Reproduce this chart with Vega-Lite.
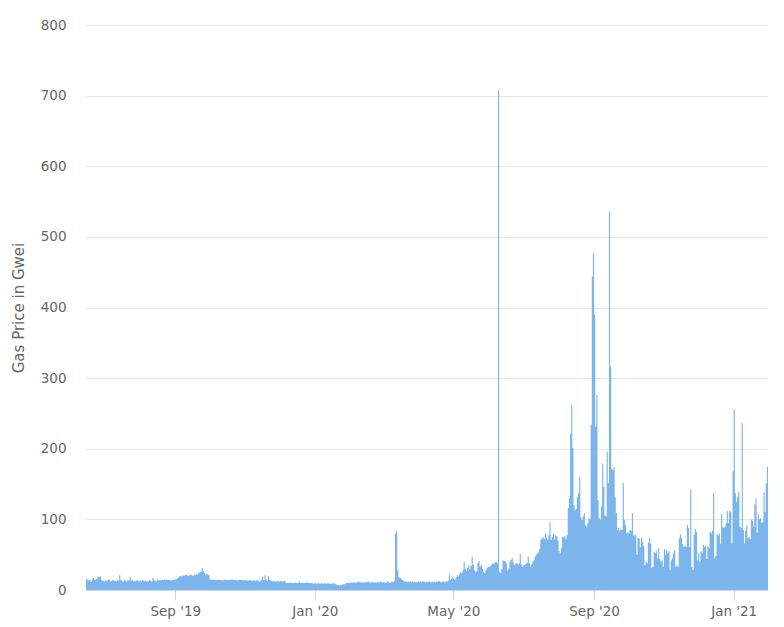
{
  "$schema": "https://vega.github.io/schema/vega-lite/v6.json",
  "width": 682,
  "height": 565,
  "autosize": "none",
  "padding": {"left": 86, "top": 25, "right": 16, "bottom": 37},
  "config": {"view": {"stroke": null}, "font": "DejaVu Sans"},
  "data": {"values": [
{"date":"2019-06-15","gwei":16},{"date":"2019-06-16","gwei":14},{"date":"2019-06-17","gwei":13},{"date":"2019-06-18","gwei":15},{"date":"2019-06-19","gwei":12},{"date":"2019-06-20","gwei":14},{"date":"2019-06-21","gwei":17},{"date":"2019-06-22","gwei":15},{"date":"2019-06-23","gwei":14},{"date":"2019-06-24","gwei":16},{"date":"2019-06-25","gwei":19},{"date":"2019-06-26","gwei":18},{"date":"2019-06-27","gwei":19},{"date":"2019-06-28","gwei":14},{"date":"2019-06-29","gwei":13},{"date":"2019-06-30","gwei":13},
{"date":"2019-07-01","gwei":12},{"date":"2019-07-02","gwei":14},{"date":"2019-07-03","gwei":13},{"date":"2019-07-04","gwei":15},{"date":"2019-07-05","gwei":14},{"date":"2019-07-06","gwei":12},{"date":"2019-07-07","gwei":13},{"date":"2019-07-08","gwei":14},{"date":"2019-07-09","gwei":13},{"date":"2019-07-10","gwei":13},{"date":"2019-07-11","gwei":12},{"date":"2019-07-12","gwei":14},{"date":"2019-07-13","gwei":13},{"date":"2019-07-14","gwei":21},{"date":"2019-07-15","gwei":14},{"date":"2019-07-16","gwei":13},{"date":"2019-07-17","gwei":12},{"date":"2019-07-18","gwei":15},{"date":"2019-07-19","gwei":13},{"date":"2019-07-20","gwei":12},{"date":"2019-07-21","gwei":14},{"date":"2019-07-22","gwei":13},{"date":"2019-07-23","gwei":18},{"date":"2019-07-24","gwei":13},{"date":"2019-07-25","gwei":14},{"date":"2019-07-26","gwei":12},{"date":"2019-07-27","gwei":13},{"date":"2019-07-28","gwei":12},{"date":"2019-07-29","gwei":14},{"date":"2019-07-30","gwei":13},{"date":"2019-07-31","gwei":12},
{"date":"2019-08-01","gwei":13},{"date":"2019-08-02","gwei":12},{"date":"2019-08-03","gwei":14},{"date":"2019-08-04","gwei":13},{"date":"2019-08-05","gwei":13},{"date":"2019-08-06","gwei":12},{"date":"2019-08-07","gwei":13},{"date":"2019-08-08","gwei":12},{"date":"2019-08-09","gwei":14},{"date":"2019-08-10","gwei":13},{"date":"2019-08-11","gwei":12},{"date":"2019-08-12","gwei":17},{"date":"2019-08-13","gwei":14},{"date":"2019-08-14","gwei":12},{"date":"2019-08-15","gwei":13},{"date":"2019-08-16","gwei":15},{"date":"2019-08-17","gwei":13},{"date":"2019-08-18","gwei":14},{"date":"2019-08-19","gwei":13},{"date":"2019-08-20","gwei":14},{"date":"2019-08-21","gwei":14},{"date":"2019-08-22","gwei":15},{"date":"2019-08-23","gwei":14},{"date":"2019-08-24","gwei":15},{"date":"2019-08-25","gwei":14},{"date":"2019-08-26","gwei":14},{"date":"2019-08-27","gwei":14},{"date":"2019-08-28","gwei":13},{"date":"2019-08-29","gwei":14},{"date":"2019-08-30","gwei":14},{"date":"2019-08-31","gwei":15},
{"date":"2019-09-01","gwei":15},{"date":"2019-09-02","gwei":16},{"date":"2019-09-03","gwei":17},{"date":"2019-09-04","gwei":19},{"date":"2019-09-05","gwei":20},{"date":"2019-09-06","gwei":19},{"date":"2019-09-07","gwei":21},{"date":"2019-09-08","gwei":20},{"date":"2019-09-09","gwei":21},{"date":"2019-09-10","gwei":22},{"date":"2019-09-11","gwei":21},{"date":"2019-09-12","gwei":20},{"date":"2019-09-13","gwei":21},{"date":"2019-09-14","gwei":22},{"date":"2019-09-15","gwei":21},{"date":"2019-09-16","gwei":20},{"date":"2019-09-17","gwei":22},{"date":"2019-09-18","gwei":21},{"date":"2019-09-19","gwei":23},{"date":"2019-09-20","gwei":22},{"date":"2019-09-21","gwei":24},{"date":"2019-09-22","gwei":25},{"date":"2019-09-23","gwei":26},{"date":"2019-09-24","gwei":31},{"date":"2019-09-25","gwei":27},{"date":"2019-09-26","gwei":24},{"date":"2019-09-27","gwei":22},{"date":"2019-09-28","gwei":23},{"date":"2019-09-29","gwei":22},{"date":"2019-09-30","gwei":21},
{"date":"2019-10-01","gwei":15},{"date":"2019-10-02","gwei":14},{"date":"2019-10-03","gwei":14},{"date":"2019-10-04","gwei":15},{"date":"2019-10-05","gwei":14},{"date":"2019-10-06","gwei":14},{"date":"2019-10-07","gwei":14},{"date":"2019-10-08","gwei":15},{"date":"2019-10-09","gwei":14},{"date":"2019-10-10","gwei":14},{"date":"2019-10-11","gwei":14},{"date":"2019-10-12","gwei":13},{"date":"2019-10-13","gwei":14},{"date":"2019-10-14","gwei":15},{"date":"2019-10-15","gwei":14},{"date":"2019-10-16","gwei":14},{"date":"2019-10-17","gwei":14},{"date":"2019-10-18","gwei":14},{"date":"2019-10-19","gwei":15},{"date":"2019-10-20","gwei":14},{"date":"2019-10-21","gwei":15},{"date":"2019-10-22","gwei":14},{"date":"2019-10-23","gwei":14},{"date":"2019-10-24","gwei":14},{"date":"2019-10-25","gwei":13},{"date":"2019-10-26","gwei":14},{"date":"2019-10-27","gwei":14},{"date":"2019-10-28","gwei":14},{"date":"2019-10-29","gwei":14},{"date":"2019-10-30","gwei":13},{"date":"2019-10-31","gwei":14},
{"date":"2019-11-01","gwei":14},{"date":"2019-11-02","gwei":13},{"date":"2019-11-03","gwei":14},{"date":"2019-11-04","gwei":13},{"date":"2019-11-05","gwei":14},{"date":"2019-11-06","gwei":13},{"date":"2019-11-07","gwei":13},{"date":"2019-11-08","gwei":14},{"date":"2019-11-09","gwei":13},{"date":"2019-11-10","gwei":13},{"date":"2019-11-11","gwei":14},{"date":"2019-11-12","gwei":13},{"date":"2019-11-13","gwei":12},{"date":"2019-11-14","gwei":13},{"date":"2019-11-15","gwei":14},{"date":"2019-11-16","gwei":19},{"date":"2019-11-17","gwei":14},{"date":"2019-11-18","gwei":21},{"date":"2019-11-19","gwei":15},{"date":"2019-11-20","gwei":13},{"date":"2019-11-21","gwei":20},{"date":"2019-11-22","gwei":14},{"date":"2019-11-23","gwei":13},{"date":"2019-11-24","gwei":13},{"date":"2019-11-25","gwei":12},{"date":"2019-11-26","gwei":13},{"date":"2019-11-27","gwei":12},{"date":"2019-11-28","gwei":12},{"date":"2019-11-29","gwei":13},{"date":"2019-11-30","gwei":12},
{"date":"2019-12-01","gwei":12},{"date":"2019-12-02","gwei":13},{"date":"2019-12-03","gwei":12},{"date":"2019-12-04","gwei":12},{"date":"2019-12-05","gwei":13},{"date":"2019-12-06","gwei":11},{"date":"2019-12-07","gwei":10},{"date":"2019-12-08","gwei":10},{"date":"2019-12-09","gwei":10},{"date":"2019-12-10","gwei":11},{"date":"2019-12-11","gwei":10},{"date":"2019-12-12","gwei":10},{"date":"2019-12-13","gwei":10},{"date":"2019-12-14","gwei":11},{"date":"2019-12-15","gwei":10},{"date":"2019-12-16","gwei":10},{"date":"2019-12-17","gwei":10},{"date":"2019-12-18","gwei":12},{"date":"2019-12-19","gwei":10},{"date":"2019-12-20","gwei":10},{"date":"2019-12-21","gwei":10},{"date":"2019-12-22","gwei":10},{"date":"2019-12-23","gwei":10},{"date":"2019-12-24","gwei":10},{"date":"2019-12-25","gwei":11},{"date":"2019-12-26","gwei":10},{"date":"2019-12-27","gwei":10},{"date":"2019-12-28","gwei":10},{"date":"2019-12-29","gwei":10},{"date":"2019-12-30","gwei":9},{"date":"2019-12-31","gwei":9},
{"date":"2020-01-01","gwei":10},{"date":"2020-01-02","gwei":9},{"date":"2020-01-03","gwei":9},{"date":"2020-01-04","gwei":10},{"date":"2020-01-05","gwei":9},{"date":"2020-01-06","gwei":10},{"date":"2020-01-07","gwei":9},{"date":"2020-01-08","gwei":9},{"date":"2020-01-09","gwei":10},{"date":"2020-01-10","gwei":9},{"date":"2020-01-11","gwei":9},{"date":"2020-01-12","gwei":10},{"date":"2020-01-13","gwei":9},{"date":"2020-01-14","gwei":9},{"date":"2020-01-15","gwei":9},{"date":"2020-01-16","gwei":9},{"date":"2020-01-17","gwei":10},{"date":"2020-01-18","gwei":9},{"date":"2020-01-19","gwei":8},{"date":"2020-01-20","gwei":7},{"date":"2020-01-21","gwei":7},{"date":"2020-01-22","gwei":6},{"date":"2020-01-23","gwei":7},{"date":"2020-01-24","gwei":7},{"date":"2020-01-25","gwei":8},{"date":"2020-01-26","gwei":8},{"date":"2020-01-27","gwei":9},{"date":"2020-01-28","gwei":10},{"date":"2020-01-29","gwei":10},{"date":"2020-01-30","gwei":10},{"date":"2020-01-31","gwei":10},
{"date":"2020-02-01","gwei":11},{"date":"2020-02-02","gwei":10},{"date":"2020-02-03","gwei":11},{"date":"2020-02-04","gwei":11},{"date":"2020-02-05","gwei":10},{"date":"2020-02-06","gwei":11},{"date":"2020-02-07","gwei":11},{"date":"2020-02-08","gwei":12},{"date":"2020-02-09","gwei":11},{"date":"2020-02-10","gwei":11},{"date":"2020-02-11","gwei":10},{"date":"2020-02-12","gwei":11},{"date":"2020-02-13","gwei":11},{"date":"2020-02-14","gwei":11},{"date":"2020-02-15","gwei":11},{"date":"2020-02-16","gwei":12},{"date":"2020-02-17","gwei":11},{"date":"2020-02-18","gwei":10},{"date":"2020-02-19","gwei":11},{"date":"2020-02-20","gwei":11},{"date":"2020-02-21","gwei":11},{"date":"2020-02-22","gwei":11},{"date":"2020-02-23","gwei":10},{"date":"2020-02-24","gwei":11},{"date":"2020-02-25","gwei":11},{"date":"2020-02-26","gwei":11},{"date":"2020-02-27","gwei":12},{"date":"2020-02-28","gwei":11},{"date":"2020-02-29","gwei":11},
{"date":"2020-03-01","gwei":11},{"date":"2020-03-02","gwei":10},{"date":"2020-03-03","gwei":11},{"date":"2020-03-04","gwei":12},{"date":"2020-03-05","gwei":11},{"date":"2020-03-06","gwei":10},{"date":"2020-03-07","gwei":11},{"date":"2020-03-08","gwei":12},{"date":"2020-03-09","gwei":11},{"date":"2020-03-10","gwei":13},{"date":"2020-03-11","gwei":80},{"date":"2020-03-12","gwei":83},{"date":"2020-03-13","gwei":28},{"date":"2020-03-14","gwei":18},{"date":"2020-03-15","gwei":17},{"date":"2020-03-16","gwei":16},{"date":"2020-03-17","gwei":14},{"date":"2020-03-18","gwei":13},{"date":"2020-03-19","gwei":12},{"date":"2020-03-20","gwei":12},{"date":"2020-03-21","gwei":11},{"date":"2020-03-22","gwei":12},{"date":"2020-03-23","gwei":11},{"date":"2020-03-24","gwei":12},{"date":"2020-03-25","gwei":11},{"date":"2020-03-26","gwei":12},{"date":"2020-03-27","gwei":11},{"date":"2020-03-28","gwei":11},{"date":"2020-03-29","gwei":12},{"date":"2020-03-30","gwei":11},{"date":"2020-03-31","gwei":12},
{"date":"2020-04-01","gwei":11},{"date":"2020-04-02","gwei":12},{"date":"2020-04-03","gwei":11},{"date":"2020-04-04","gwei":12},{"date":"2020-04-05","gwei":12},{"date":"2020-04-06","gwei":11},{"date":"2020-04-07","gwei":12},{"date":"2020-04-08","gwei":11},{"date":"2020-04-09","gwei":12},{"date":"2020-04-10","gwei":12},{"date":"2020-04-11","gwei":11},{"date":"2020-04-12","gwei":12},{"date":"2020-04-13","gwei":11},{"date":"2020-04-14","gwei":12},{"date":"2020-04-15","gwei":11},{"date":"2020-04-16","gwei":12},{"date":"2020-04-17","gwei":12},{"date":"2020-04-18","gwei":13},{"date":"2020-04-19","gwei":12},{"date":"2020-04-20","gwei":11},{"date":"2020-04-21","gwei":12},{"date":"2020-04-22","gwei":12},{"date":"2020-04-23","gwei":11},{"date":"2020-04-24","gwei":12},{"date":"2020-04-25","gwei":12},{"date":"2020-04-26","gwei":13},{"date":"2020-04-27","gwei":22},{"date":"2020-04-28","gwei":14},{"date":"2020-04-29","gwei":16},{"date":"2020-04-30","gwei":18},
{"date":"2020-05-01","gwei":16},{"date":"2020-05-02","gwei":15},{"date":"2020-05-03","gwei":18},{"date":"2020-05-04","gwei":21},{"date":"2020-05-05","gwei":19},{"date":"2020-05-06","gwei":23},{"date":"2020-05-07","gwei":26},{"date":"2020-05-08","gwei":24},{"date":"2020-05-09","gwei":28},{"date":"2020-05-10","gwei":40},{"date":"2020-05-11","gwei":30},{"date":"2020-05-12","gwei":27},{"date":"2020-05-13","gwei":31},{"date":"2020-05-14","gwei":35},{"date":"2020-05-15","gwei":29},{"date":"2020-05-16","gwei":34},{"date":"2020-05-17","gwei":47},{"date":"2020-05-18","gwei":36},{"date":"2020-05-19","gwei":28},{"date":"2020-05-20","gwei":25},{"date":"2020-05-21","gwei":27},{"date":"2020-05-22","gwei":38},{"date":"2020-05-23","gwei":41},{"date":"2020-05-24","gwei":33},{"date":"2020-05-25","gwei":36},{"date":"2020-05-26","gwei":30},{"date":"2020-05-27","gwei":26},{"date":"2020-05-28","gwei":24},{"date":"2020-05-29","gwei":28},{"date":"2020-05-30","gwei":31},{"date":"2020-05-31","gwei":33},
{"date":"2020-06-01","gwei":33},{"date":"2020-06-02","gwei":34},{"date":"2020-06-03","gwei":36},{"date":"2020-06-04","gwei":38},{"date":"2020-06-05","gwei":37},{"date":"2020-06-06","gwei":39},{"date":"2020-06-07","gwei":40},{"date":"2020-06-08","gwei":38},{"date":"2020-06-09","gwei":708},{"date":"2020-06-10","gwei":26},{"date":"2020-06-11","gwei":24},{"date":"2020-06-12","gwei":30},{"date":"2020-06-13","gwei":42},{"date":"2020-06-14","gwei":41},{"date":"2020-06-15","gwei":40},{"date":"2020-06-16","gwei":38},{"date":"2020-06-17","gwei":28},{"date":"2020-06-18","gwei":30},{"date":"2020-06-19","gwei":40},{"date":"2020-06-20","gwei":43},{"date":"2020-06-21","gwei":45},{"date":"2020-06-22","gwei":39},{"date":"2020-06-23","gwei":35},{"date":"2020-06-24","gwei":37},{"date":"2020-06-25","gwei":38},{"date":"2020-06-26","gwei":36},{"date":"2020-06-27","gwei":38},{"date":"2020-06-28","gwei":51},{"date":"2020-06-29","gwei":36},{"date":"2020-06-30","gwei":33},
{"date":"2020-07-01","gwei":35},{"date":"2020-07-02","gwei":36},{"date":"2020-07-03","gwei":37},{"date":"2020-07-04","gwei":39},{"date":"2020-07-05","gwei":47},{"date":"2020-07-06","gwei":38},{"date":"2020-07-07","gwei":33},{"date":"2020-07-08","gwei":36},{"date":"2020-07-09","gwei":40},{"date":"2020-07-10","gwei":42},{"date":"2020-07-11","gwei":47},{"date":"2020-07-12","gwei":50},{"date":"2020-07-13","gwei":52},{"date":"2020-07-14","gwei":54},{"date":"2020-07-15","gwei":58},{"date":"2020-07-16","gwei":71},{"date":"2020-07-17","gwei":73},{"date":"2020-07-18","gwei":75},{"date":"2020-07-19","gwei":72},{"date":"2020-07-20","gwei":80},{"date":"2020-07-21","gwei":74},{"date":"2020-07-22","gwei":71},{"date":"2020-07-23","gwei":78},{"date":"2020-07-24","gwei":96},{"date":"2020-07-25","gwei":71},{"date":"2020-07-26","gwei":75},{"date":"2020-07-27","gwei":80},{"date":"2020-07-28","gwei":72},{"date":"2020-07-29","gwei":78},{"date":"2020-07-30","gwei":76},{"date":"2020-07-31","gwei":70},
{"date":"2020-08-01","gwei":55},{"date":"2020-08-02","gwei":52},{"date":"2020-08-03","gwei":60},{"date":"2020-08-04","gwei":75},{"date":"2020-08-05","gwei":74},{"date":"2020-08-06","gwei":76},{"date":"2020-08-07","gwei":72},{"date":"2020-08-08","gwei":78},{"date":"2020-08-09","gwei":116},{"date":"2020-08-10","gwei":130},{"date":"2020-08-11","gwei":221},{"date":"2020-08-12","gwei":262},{"date":"2020-08-13","gwei":201},{"date":"2020-08-14","gwei":120},{"date":"2020-08-15","gwei":113},{"date":"2020-08-16","gwei":115},{"date":"2020-08-17","gwei":132},{"date":"2020-08-18","gwei":137},{"date":"2020-08-19","gwei":160},{"date":"2020-08-20","gwei":103},{"date":"2020-08-21","gwei":99},{"date":"2020-08-22","gwei":104},{"date":"2020-08-23","gwei":109},{"date":"2020-08-24","gwei":92},{"date":"2020-08-25","gwei":90},{"date":"2020-08-26","gwei":94},{"date":"2020-08-27","gwei":102},{"date":"2020-08-28","gwei":101},{"date":"2020-08-29","gwei":234},{"date":"2020-08-30","gwei":444},{"date":"2020-08-31","gwei":477},
{"date":"2020-09-01","gwei":390},{"date":"2020-09-02","gwei":231},{"date":"2020-09-03","gwei":276},{"date":"2020-09-04","gwei":127},{"date":"2020-09-05","gwei":102},{"date":"2020-09-06","gwei":100},{"date":"2020-09-07","gwei":118},{"date":"2020-09-08","gwei":179},{"date":"2020-09-09","gwei":146},{"date":"2020-09-10","gwei":106},{"date":"2020-09-11","gwei":104},{"date":"2020-09-12","gwei":196},{"date":"2020-09-13","gwei":151},{"date":"2020-09-14","gwei":536},{"date":"2020-09-15","gwei":316},{"date":"2020-09-16","gwei":172},{"date":"2020-09-17","gwei":170},{"date":"2020-09-18","gwei":174},{"date":"2020-09-19","gwei":131},{"date":"2020-09-20","gwei":109},{"date":"2020-09-21","gwei":85},{"date":"2020-09-22","gwei":88},{"date":"2020-09-23","gwei":84},{"date":"2020-09-24","gwei":86},{"date":"2020-09-25","gwei":85},{"date":"2020-09-26","gwei":152},{"date":"2020-09-27","gwei":99},{"date":"2020-09-28","gwei":92},{"date":"2020-09-29","gwei":80},{"date":"2020-09-30","gwei":82},
{"date":"2020-10-01","gwei":80},{"date":"2020-10-02","gwei":85},{"date":"2020-10-03","gwei":84},{"date":"2020-10-04","gwei":109},{"date":"2020-10-05","gwei":78},{"date":"2020-10-06","gwei":76},{"date":"2020-10-07","gwei":79},{"date":"2020-10-08","gwei":50},{"date":"2020-10-09","gwei":74},{"date":"2020-10-10","gwei":73},{"date":"2020-10-11","gwei":61},{"date":"2020-10-12","gwei":74},{"date":"2020-10-13","gwei":68},{"date":"2020-10-14","gwei":62},{"date":"2020-10-15","gwei":35},{"date":"2020-10-16","gwei":40},{"date":"2020-10-17","gwei":38},{"date":"2020-10-18","gwei":67},{"date":"2020-10-19","gwei":74},{"date":"2020-10-20","gwei":66},{"date":"2020-10-21","gwei":31},{"date":"2020-10-22","gwei":33},{"date":"2020-10-23","gwei":54},{"date":"2020-10-24","gwei":52},{"date":"2020-10-25","gwei":55},{"date":"2020-10-26","gwei":45},{"date":"2020-10-27","gwei":59},{"date":"2020-10-28","gwei":44},{"date":"2020-10-29","gwei":40},{"date":"2020-10-30","gwei":42},{"date":"2020-10-31","gwei":33},
{"date":"2020-11-01","gwei":58},{"date":"2020-11-02","gwei":50},{"date":"2020-11-03","gwei":57},{"date":"2020-11-04","gwei":52},{"date":"2020-11-05","gwei":55},{"date":"2020-11-06","gwei":28},{"date":"2020-11-07","gwei":42},{"date":"2020-11-08","gwei":45},{"date":"2020-11-09","gwei":52},{"date":"2020-11-10","gwei":57},{"date":"2020-11-11","gwei":33},{"date":"2020-11-12","gwei":35},{"date":"2020-11-13","gwei":33},{"date":"2020-11-14","gwei":73},{"date":"2020-11-15","gwei":79},{"date":"2020-11-16","gwei":74},{"date":"2020-11-17","gwei":65},{"date":"2020-11-18","gwei":61},{"date":"2020-11-19","gwei":63},{"date":"2020-11-20","gwei":61},{"date":"2020-11-21","gwei":92},{"date":"2020-11-22","gwei":88},{"date":"2020-11-23","gwei":61},{"date":"2020-11-24","gwei":142},{"date":"2020-11-25","gwei":33},{"date":"2020-11-26","gwei":28},{"date":"2020-11-27","gwei":78},{"date":"2020-11-28","gwei":86},{"date":"2020-11-29","gwei":82},{"date":"2020-11-30","gwei":42},
{"date":"2020-12-01","gwei":52},{"date":"2020-12-02","gwei":40},{"date":"2020-12-03","gwei":55},{"date":"2020-12-04","gwei":52},{"date":"2020-12-05","gwei":64},{"date":"2020-12-06","gwei":61},{"date":"2020-12-07","gwei":63},{"date":"2020-12-08","gwei":44},{"date":"2020-12-09","gwei":62},{"date":"2020-12-10","gwei":60},{"date":"2020-12-11","gwei":82},{"date":"2020-12-12","gwei":80},{"date":"2020-12-13","gwei":84},{"date":"2020-12-14","gwei":137},{"date":"2020-12-15","gwei":45},{"date":"2020-12-16","gwei":48},{"date":"2020-12-17","gwei":79},{"date":"2020-12-18","gwei":77},{"date":"2020-12-19","gwei":80},{"date":"2020-12-20","gwei":66},{"date":"2020-12-21","gwei":108},{"date":"2020-12-22","gwei":89},{"date":"2020-12-23","gwei":88},{"date":"2020-12-24","gwei":90},{"date":"2020-12-25","gwei":95},{"date":"2020-12-26","gwei":112},{"date":"2020-12-27","gwei":95},{"date":"2020-12-28","gwei":112},{"date":"2020-12-29","gwei":110},{"date":"2020-12-30","gwei":66},{"date":"2020-12-31","gwei":168},
{"date":"2021-01-01","gwei":256},{"date":"2021-01-02","gwei":137},{"date":"2021-01-03","gwei":125},{"date":"2021-01-04","gwei":132},{"date":"2021-01-05","gwei":139},{"date":"2021-01-06","gwei":90},{"date":"2021-01-07","gwei":88},{"date":"2021-01-08","gwei":236},{"date":"2021-01-09","gwei":85},{"date":"2021-01-10","gwei":66},{"date":"2021-01-11","gwei":84},{"date":"2021-01-12","gwei":92},{"date":"2021-01-13","gwei":73},{"date":"2021-01-14","gwei":75},{"date":"2021-01-15","gwei":72},{"date":"2021-01-16","gwei":100},{"date":"2021-01-17","gwei":98},{"date":"2021-01-18","gwei":90},{"date":"2021-01-19","gwei":121},{"date":"2021-01-20","gwei":130},{"date":"2021-01-21","gwei":81},{"date":"2021-01-22","gwei":108},{"date":"2021-01-23","gwei":100},{"date":"2021-01-24","gwei":102},{"date":"2021-01-25","gwei":95},{"date":"2021-01-26","gwei":96},{"date":"2021-01-27","gwei":138},{"date":"2021-01-28","gwei":110},{"date":"2021-01-29","gwei":151},{"date":"2021-01-30","gwei":174},{"date":"2021-01-31","gwei":174}
  ]},
  "mark": {"type": "area", "interpolate": "step-after", "color": "#7cb5ec", "opacity": 1},
  "encoding": {
    "x": {
      "field": "date",
      "type": "temporal",
      "scale": {"type": "utc", "domain": [{"year": 2019, "month": 6, "date": 15, "utc": true}, {"year": 2021, "month": 1, "date": 31, "utc": true}]},
      "axis": {
        "title": null,
        "values": [{"year": 2019, "month": 9, "date": 1, "utc": true}, {"year": 2020, "month": 1, "date": 1, "utc": true}, {"year": 2020, "month": 5, "date": 1, "utc": true}, {"year": 2020, "month": 9, "date": 1, "utc": true}, {"year": 2021, "month": 1, "date": 1, "utc": true}],
        "labelExpr": "utcFormat(datum.value, \"%b '%y\")",
        "grid": false,
        "domainColor": "#ccd6eb",
        "tickColor": "#ccd6eb",
        "tickSize": 10,
        "labelColor": "#666666",
        "labelFontSize": 13.5,
        "labelPadding": 4
      }
    },
    "y": {
      "field": "gwei",
      "type": "quantitative",
      "scale": {"domain": [0, 800], "nice": false},
      "axis": {
        "title": "Gas Price in Gwei",
        "values": [0, 100, 200, 300, 400, 500, 600, 700, 800],
        "domain": false,
        "ticks": false,
        "gridColor": "#e6e6e6",
        "labelColor": "#666666",
        "labelFontSize": 13.5,
        "labelPadding": 20,
        "titleColor": "#666666",
        "titleFontSize": 15,
        "titleFontWeight": "normal",
        "titlePadding": 14
      }
    }
  }
}
